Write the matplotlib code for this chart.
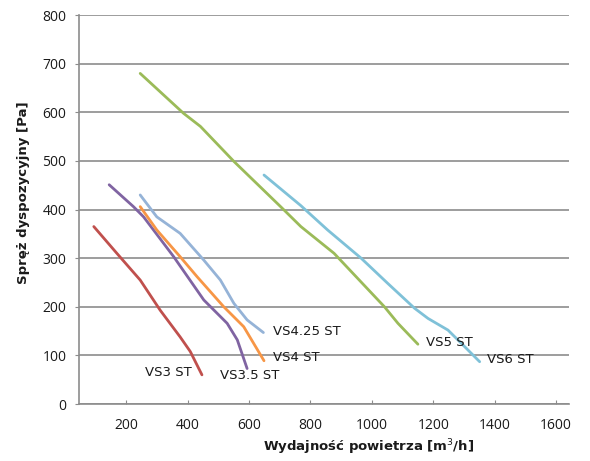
import matplotlib
matplotlib.use("Agg")
import matplotlib.pyplot as plt

# fan curves: air flow [m3/h] and pressure [Pa]
vs3_x = [95, 170, 246, 311, 376, 409, 447]
vs3_y = [365, 310, 255, 193, 138, 108, 60]

vs35_x = [145, 224, 257, 355, 453, 529, 562, 594]
vs35_y = [451, 406, 385, 303, 214, 166, 132, 73]

vs4_x = [246, 300, 376, 431, 518, 583, 649]
vs4_y = [406, 358, 303, 262, 200, 159, 89]

vs425_x = [246, 300, 376, 453, 507, 551, 594, 647]
vs425_y = [430, 385, 351, 296, 255, 207, 173, 147]

vs5_x = [246, 387, 442, 551, 703, 769, 877, 1041, 1085, 1150]
vs5_y = [680, 598, 571, 499, 406, 365, 310, 200, 166, 123]

vs6_x = [649, 769, 856, 965, 1052, 1139, 1183, 1248, 1291, 1351]
vs6_y = [471, 408, 358, 300, 248, 197, 176, 152, 125, 87]

x_ticks = [200, 400, 600, 800, 1000, 1200, 1400, 1600]
y_ticks = [0, 100, 200, 300, 400, 500, 600, 700, 800]

series = [
    ("VS3 ST", vs3_x, vs3_y, "#C0504D"),
    ("VS3.5 ST", vs35_x, vs35_y, "#8064A2"),
    ("VS4 ST", vs4_x, vs4_y, "#F79646"),
    ("VS4.25 ST", vs425_x, vs425_y, "#95B3D7"),
    ("VS5 ST", vs5_x, vs5_y, "#9BBB59"),
    ("VS6 ST", vs6_x, vs6_y, "#7FC1D8"),
]

# label anchors (data coords) and alignment
label_pos = {
    "VS3 ST": (337, 64, "center"),
    "VS3.5 ST": (604, 58, "center"),
    "VS4 ST": (677, 95, "left"),
    "VS4.25 ST": (677, 150, "left"),
    "VS5 ST": (1177, 126, "left"),
    "VS6 ST": (1376, 91, "left"),
}

grid_col = "#8C8C8C"

fig = plt.figure(figsize=(5.9, 4.61), dpi=100)
ax = fig.add_axes([0.134, 0.1236, 0.83, 0.8437])

for name, xs, ys, col in series:
    ax.plot(xs, ys, color=col, linewidth=2.0, solid_capstyle="round",
            solid_joinstyle="round", zorder=3)
    tx, ty, ha = label_pos[name]
    ax.text(tx, ty, name, ha=ha, va="center", fontsize=9.5,
            family="DejaVu Sans", color="#1a1a1a", zorder=4)

ax.set_xlim(47, 1641)
ax.set_ylim(0, 800)
ax.set_xticks(x_ticks)
ax.set_yticks(y_ticks)

ax.yaxis.grid(True, color=grid_col, linewidth=1.2)
ax.set_axisbelow(True)

for s in ["top", "right"]:
    ax.spines[s].set_visible(False)
for s in ["left", "bottom"]:
    ax.spines[s].set_color(grid_col)
    ax.spines[s].set_linewidth(1.2)

ax.tick_params(axis="x", direction="in", length=3, color=grid_col, pad=10,
               labelsize=10, labelcolor="#1a1a1a")
ax.tick_params(axis="y", direction="out", length=3, color=grid_col, pad=6,
               labelsize=10, labelcolor="#1a1a1a")
for lab in ax.get_xticklabels() + ax.get_yticklabels():
    lab.set_family("Open Sans")

# axis titles placed in figure coords, as in the reference
fig.text(0.624, 0.03, "Wydajność powietrza [m$^3$/h]", ha="center", va="center",
         fontsize=9.5, fontweight="bold", family="DejaVu Sans", color="#1a1a1a")
fig.text(0.039, 0.583, "Spręż dyspozycyjny [Pa]", ha="center", va="center",
         rotation=90, fontsize=9.5, fontweight="bold", family="DejaVu Sans",
         color="#1a1a1a")

fig.savefig("out.png", dpi=100)
